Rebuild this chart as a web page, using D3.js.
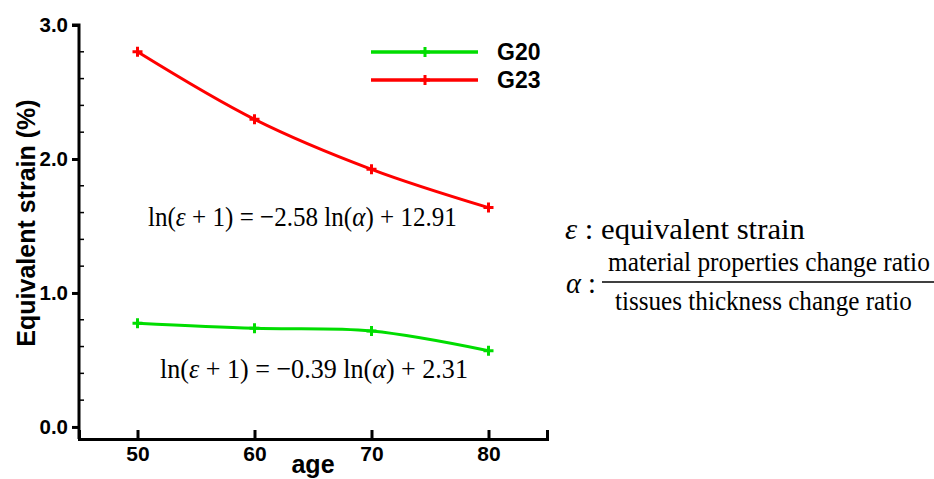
<!DOCTYPE html>
<html><head><meta charset="utf-8">
<script src="https://cdn.jsdelivr.net/npm/d3@7"></script>
<style>body{margin:0;background:#fff}svg{display:block}</style>
</head><body><svg id="c" width="934" height="479"></svg>
<script>
const ages = [50, 60, 70, 80];
const g20 = [0.774, 0.736, 0.716, 0.569];
const g23 = [2.80, 2.296, 1.923, 1.637];
const seriesNames = ["G20", "G23"];
const seriesColors = ["#00dd00", "#ff0000"];
const yTicks = [0.0, 1.0, 2.0, 3.0];
const xTicks = [50, 60, 70, 80];

const svg = d3.select("#c");
const x = d3.scaleLinear().domain([45, 85]).range([79, 547]);
const y = d3.scaleLinear().domain([-0.09, 3.0]).range([439, 25]);
const sans = "'Liberation Sans', Arial, sans-serif";
const serif = "'Liberation Serif', 'Times New Roman', serif";

// axes
const gx = svg.append("g").attr("transform", "translate(0,439)")
  .call(d3.axisBottom(x).tickValues(xTicks).tickSize(-9).tickPadding(14).tickFormat(d3.format("d")));
gx.select(".domain").attr("stroke-width", 3);
gx.selectAll(".tick line").attr("stroke-width", 3);
gx.selectAll("text").attr("font-family", sans).attr("font-weight", "bold").attr("font-size", 21).attr("fill", "#000").attr("dy", "0.71em").attr("y", 7);

const gy = svg.append("g").attr("transform", "translate(79,0)")
  .call(d3.axisLeft(y).tickValues(yTicks).tickSize(7).tickPadding(4).tickFormat(d3.format(".1f")));
gy.select(".domain").attr("stroke-width", 3).attr("d", `M-7,${y(3.0)}H0V439`);
gy.selectAll(".tick line").attr("stroke-width", 3);
gy.selectAll("text").attr("font-family", sans).attr("font-weight", "bold").attr("font-size", 20.5).attr("fill", "#000");
// minor ticks
const minor = d3.range(0.2, 3.0, 0.2).filter(v => Math.abs(v - Math.round(v)) > 0.05);
svg.append("g").selectAll("line").data(minor).join("line")
  .attr("x1", 79).attr("x2", 84).attr("y1", d => y(d)).attr("y2", d => y(d))
  .attr("stroke", "#000").attr("stroke-width", 1.5);

svg.append("text").attr("transform", `translate(35,223) rotate(-90)`).attr("text-anchor", "middle")
  .attr("font-family", sans).attr("font-weight", "bold").attr("font-size", 25).text("Equivalent strain (%)");
svg.append("text").attr("x", 313).attr("y", 473).attr("text-anchor", "middle")
  .attr("font-family", sans).attr("font-weight", "bold").attr("font-size", 25).text("age");

// series
const line = d3.line().x(d => x(d[0])).y(d => y(d[1])).curve(d3.curveCatmullRom.alpha(0.5));
const data = [g20, g23];
function plus(g, cx, cy, color) {
  g.append("path").attr("d", `M${cx-5},${cy}H${cx+5}M${cx},${cy-5}V${cy+5}`)
    .attr("stroke", color).attr("stroke-width", 3).attr("fill", "none");
}
data.forEach((vals, i) => {
  const pts = ages.map((a, j) => [a, vals[j]]);
  svg.append("path").attr("d", line(pts)).attr("fill", "none").attr("stroke", seriesColors[i]).attr("stroke-width", 3);
  const g = svg.append("g");
  pts.forEach(p => plus(g, x(p[0]), y(p[1]), seriesColors[i]));
});

// legend
seriesNames.forEach((n, i) => {
  const ly = 52 + i * 28;
  svg.append("line").attr("x1", 371).attr("x2", 478).attr("y1", ly).attr("y2", ly)
    .attr("stroke", seriesColors[i]).attr("stroke-width", 3.5);
  plus(svg, 425, ly, seriesColors[i]);
  svg.append("text").attr("x", 497).attr("y", ly + 7.5).attr("font-family", sans).attr("font-weight", "bold")
    .attr("font-size", 23).text(n);
});

// serif text fitted to a width by horizontal scaling
function fitText(xp, yp, width, size, parts) {
  const t = svg.append("text").attr("x", 0).attr("y", 0).attr("font-family", serif).attr("font-size", size);
  parts.forEach(p => t.append("tspan").attr("font-style", p[1] ? "italic" : null).text(p[0]));
  const w = t.node().getBBox().width;
  t.attr("transform", `translate(${xp},${yp}) scale(${width / w},1)`);
  return t;
}
fitText(148, 226, 309, 28, [["ln("], ["ε", 1], [" + 1) = −2.58 ln("], ["α", 1], [") + 12.91"]]);
fitText(160, 378, 308, 28, [["ln("], ["ε", 1], [" + 1) = −0.39 ln("], ["α", 1], [") + 2.31"]]);

// definitions
fitText(565, 239, 240, 30, [["ε", 1], [" : equivalent strain"]]);
fitText(566, 293, 30, 30, [["α", 1], [" :"]]);
fitText(608, 271, 322, 27, [["material properties  change ratio"]]);
svg.append("line").attr("x1", 602).attr("x2", 934).attr("y1", 282).attr("y2", 282).attr("stroke", "#000").attr("stroke-width", 1.5);
fitText(615, 310, 297, 27, [["tissues  thickness  change ratio"]]);
</script></body></html>
